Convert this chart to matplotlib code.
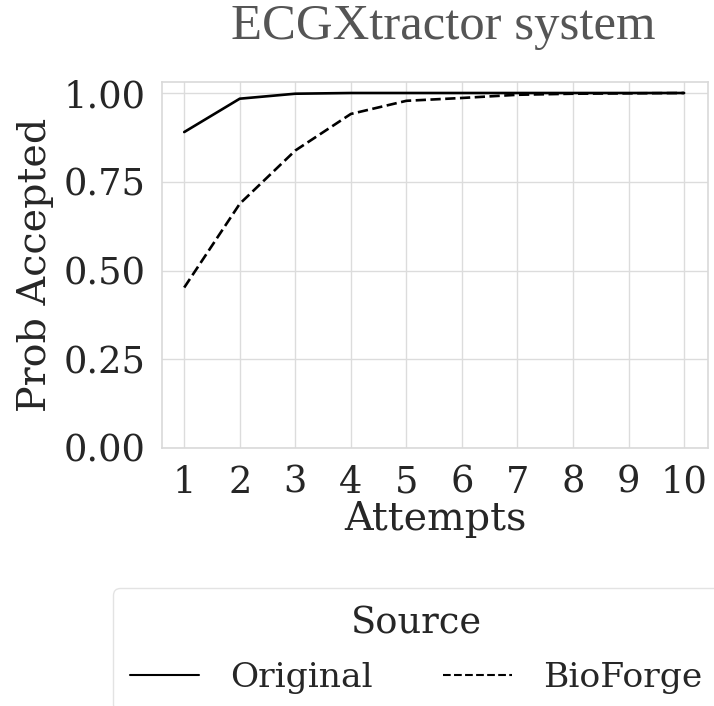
import numpy as np
import matplotlib
matplotlib.use("Agg")
import matplotlib.pyplot as plt
import seaborn as sns
from matplotlib.lines import Line2D

attempts = [1, 2, 3, 4, 5, 6, 7, 8, 9, 10]
original = [0.89, 0.984, 0.998, 1.0, 1.0, 1.0, 1.0, 1.0, 1.0, 1.0]
bioforge = [0.452, 0.688, 0.838, 0.941, 0.978, 0.986, 0.995, 0.998, 0.999, 1.0]
yticks = [0.0, 0.25, 0.5, 0.75, 1.0]

sns.set_theme(style="whitegrid")
plt.rcParams['font.family'] = ['DejaVu Serif']
plt.rcParams['axes.edgecolor'] = '#d9d9d9'
plt.rcParams['grid.color'] = '#dcdcdc'

fig = plt.figure(figsize=(7.14, 7.06), dpi=100)
ax = fig.add_axes([162/714, 1-448/706, 546/714, 366/706])

ax.plot(attempts, original, color='black', lw=1.9, ls='-')
ax.plot(attempts, bioforge, color='black', lw=1.9, ls=(0, (3.9, 1.7)))

ax.set_ylim(0, 1.031)
ax.set_xlim(0.6, 10.43)
ax.set_xticks(attempts)
ax.set_yticks(yticks)
ax.set_yticklabels(["%.2f" % v for v in yticks])
ax.tick_params(labelsize=26.5, colors='#262626', pad=6)
ax.set_xlabel("Attempts", fontsize=28.5, color='#262626', labelpad=0)
ax.set_ylabel("Prob Accepted", fontsize=28.5, color='#262626', labelpad=7)
for s in ax.spines.values():
    s.set_linewidth(1.2)

fig.text(443/714, 1-27/706, "ECGXtractor system", fontsize=36.5,
         family='Liberation Serif', color='#555555', ha='center', va='center')

handles = [Line2D([], [], color='black', lw=1.5, ls='-'),
           Line2D([], [], color='black', lw=1.5, ls='--')]
leg = fig.legend(handles, ["Original", "BioForge"], title="Source", ncol=2,
                 loc='upper left', bbox_to_anchor=(113/714, 1-588/706),
                 fontsize=24.8, title_fontsize=26.5, frameon=True,
                 handlelength=2.0, handletextpad=0.9, columnspacing=2.05,
                 labelspacing=0.6, borderaxespad=0, borderpad=0.5,
                 fancybox=True)
leg.get_frame().set_edgecolor('#dddddd')
for t in leg.get_texts():
    t.set_color('#262626')
leg.get_title().set_color('#262626')

fig.savefig("out.png", dpi=100)
